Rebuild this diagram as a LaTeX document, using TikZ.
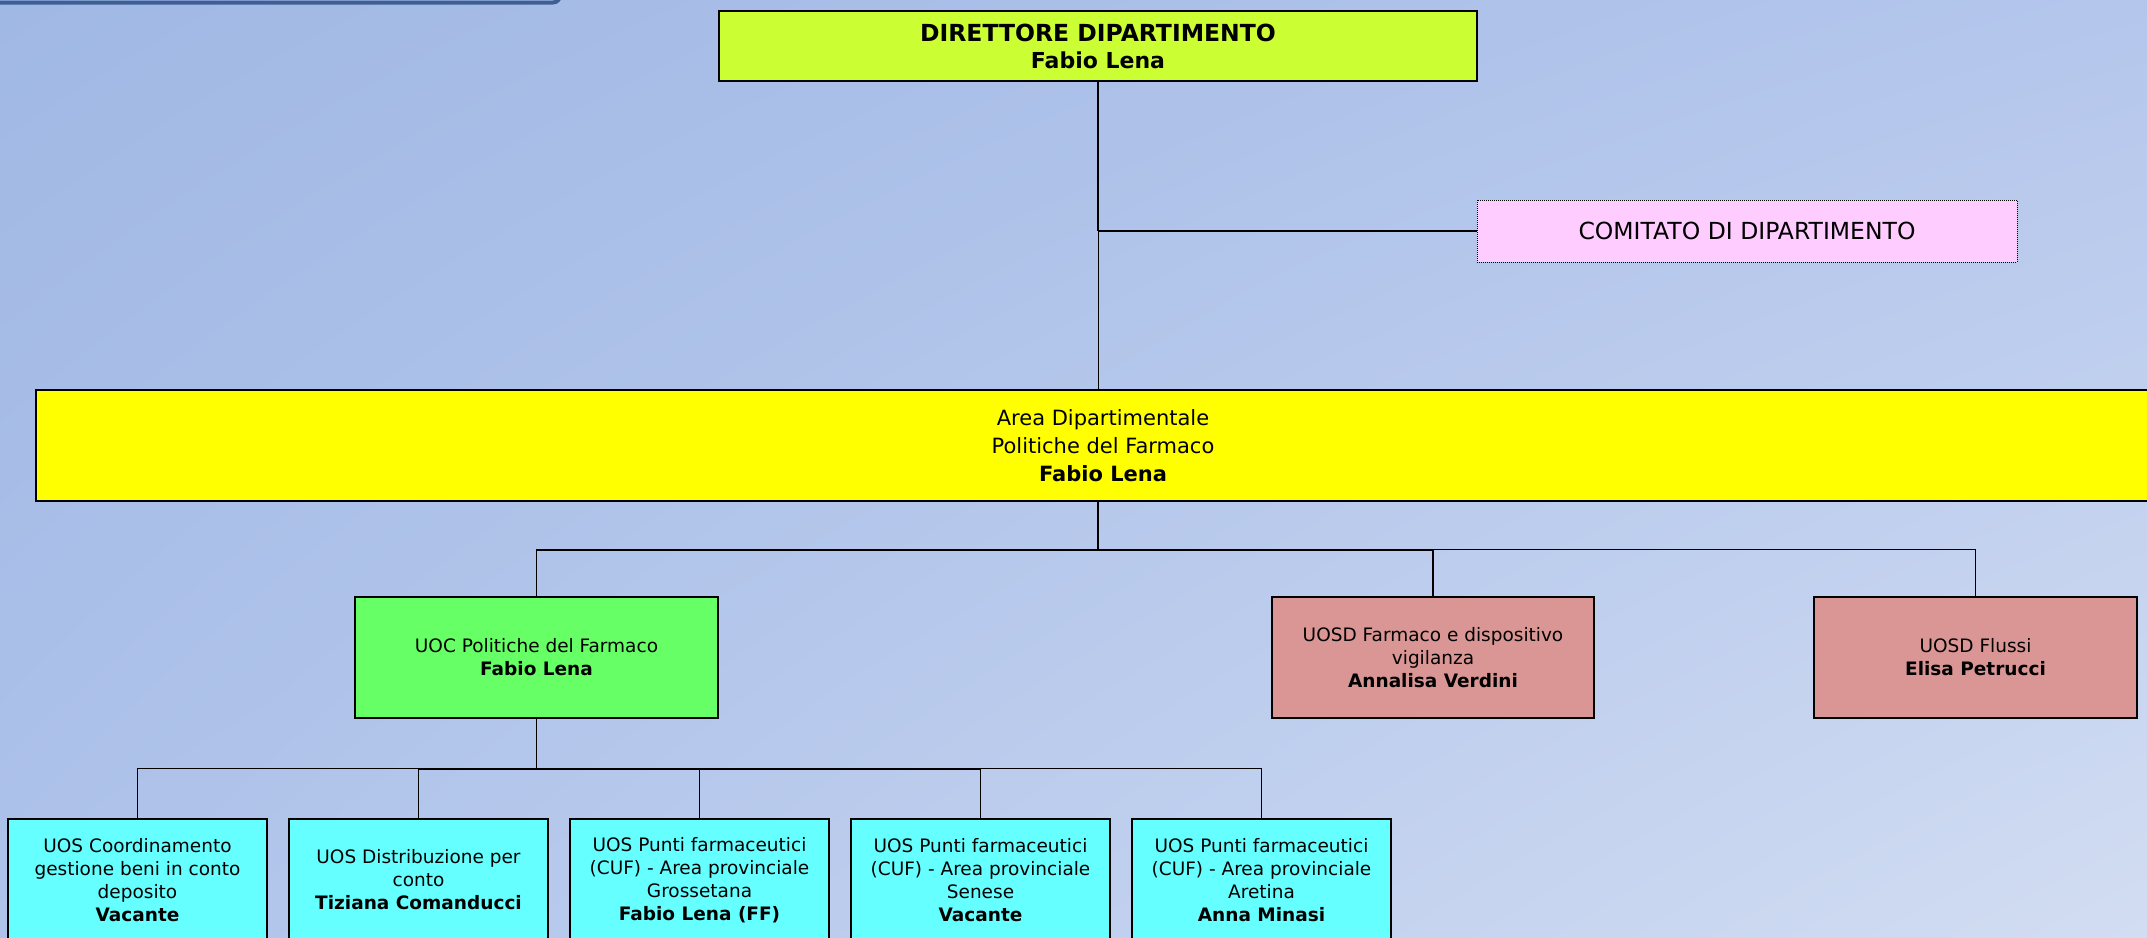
\documentclass[tikz,border=0pt]{standalone}
\usepackage{fontspec}
\setmainfont{DejaVu Sans}
\usetikzlibrary{positioning,shadings}
\definecolor{bgtl}{HTML}{A0B8E4}
\definecolor{bgtr}{HTML}{B4C6EC}
\definecolor{bgbl}{HTML}{AEC2EA}
\definecolor{bgbr}{HTML}{D2DDF2}
\definecolor{edgecol}{HTML}{3D5F96}
\definecolor{dircol}{HTML}{CCFF33}
\definecolor{comcol}{HTML}{FFCCFF}
\definecolor{areacol}{HTML}{FFFF00}
\definecolor{uoccol}{HTML}{66FF66}
\definecolor{uosdcol}{HTML}{DA9694}
\definecolor{uoscol}{HTML}{66FFFF}
\tikzstyle{box}=[draw, line width=1.5pt, inner sep=0pt, align=center,
  font=\fontsize{18.5}{23}\selectfont]
\tikzstyle{uos}=[box, fill=uoscol, minimum width=259pt, minimum height=122pt]
\tikzstyle{link}=[line width=1.6pt]
\tikzstyle{thin}=[line width=1pt]

\begin{document}
\begin{tikzpicture}[x=1pt, y=-1pt, on grid, node distance=281pt]
  \useasboundingbox (0,0) rectangle (2147,937);
  \shade[upper left=bgtl, upper right=bgtr, lower left=bgbl, lower right=bgbr]
    (0,0) rectangle (2147,937);
  \draw[edgecol, line width=4pt, rounded corners=7pt] (-20,-40) rectangle (560,2.5);

  \node[box, fill=dircol, minimum width=758pt, minimum height=70pt,
    font=\bfseries\fontsize{22}{27}\selectfont] (dir) at (1098,46)
    {{\fontsize{23.5}{27}\selectfont DIRETTORE DIPARTIMENTO}\\Fabio Lena};
  \node[box, fill=comcol, line width=1pt, densely dotted, minimum width=540pt,
    minimum height=62pt, font=\fontsize{23.5}{27}\selectfont] (com) at (1747,231)
    {COMITATO DI DIPARTIMENTO};
  \node[box, fill=areacol, minimum width=2134pt, minimum height=111pt,
    font=\fontsize{21}{28}\selectfont] (area) at (1103,445.5)
    {Area Dipartimentale\\Politiche del Farmaco\\\textbf{Fabio Lena}};

  \node[box, fill=uoccol, minimum width=363pt, minimum height=121pt] (uoc) at (536.5,657.5)
    {UOC Politiche del Farmaco\\\textbf{Fabio Lena}};
  \node[box, fill=uosdcol, minimum width=322pt, minimum height=121pt] (vig) at (1433,657.5)
    {UOSD Farmaco e dispositivo\\vigilanza\\\textbf{Annalisa Verdini}};
  \node[box, fill=uosdcol, minimum width=323pt, minimum height=121pt] (flu) at (1975.5,657.5)
    {UOSD Flussi\\\textbf{Elisa Petrucci}};

  \node[uos] (uos1) at (137.5,880)
    {UOS Coordinamento\\gestione beni in conto\\deposito\\\textbf{Vacante}};
  \node[uos, right=of uos1] (uos2)
    {UOS Distribuzione per\\conto\\\textbf{Tiziana Comanducci}};
  \node[uos, right=of uos2] (uos3)
    {UOS Punti farmaceutici\\(CUF) - Area provinciale\\Grossetana\\\textbf{Fabio Lena (FF)}};
  \node[uos, right=of uos3] (uos4)
    {UOS Punti farmaceutici\\(CUF) - Area provinciale\\Senese\\\textbf{Vacante}};
  \node[uos, right=of uos4] (uos5)
    {UOS Punti farmaceutici\\(CUF) - Area provinciale\\Aretina\\\textbf{Anna Minasi}};

  \draw[link] (dir.south) -- (dir.south |- com.west) coordinate (j);
  \draw[link] (j) -- (com.west);
  \draw[thin] (j) -- (j |- area.north);

  \draw[link] (dir.south |- area.south) -- ++(0,48) coordinate (b1);
  \draw[link] (uoc.north) |- (b1) (vig.north) |- (b1);
  \draw[thin] (flu.north) |- (b1);

  \draw[link] (uoc.south) -- ++(0,50) coordinate (b2);
  \draw[thin] (uos1.north) |- (b2) (uos3.north) |- (b2) (uos5.north) |- (b2);
  \draw[link] (uos2.north) |- (b2) (uos4.north) |- (b2);
\end{tikzpicture}
\end{document}
